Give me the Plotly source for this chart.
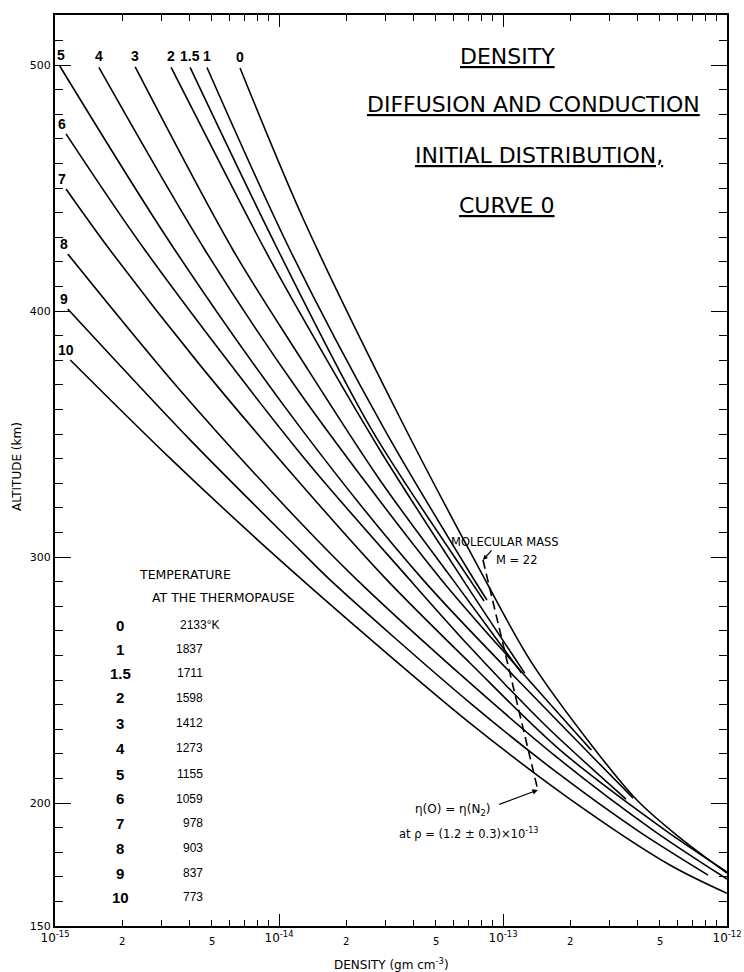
import numpy as np
import plotly.graph_objects as go

# ---------------- data ----------------
curve_ids = ["0", "1", "1.5", "2", "3", "4", "5", "6", "7", "8", "9", "10"]
temperatures = ["2133", "1837", "1711", "1598", "1412", "1273", "1155", "1059", "978", "903", "837", "773"]

dens_c0 = [6.70e-15, 1.29e-14, 3.47e-14, 7.89e-14, 1.32e-13, 2.52e-13, 3.96e-13, 6.17e-13, 1.00e-12]
alt_c0 = [498.8, 437, 356.5, 294.7, 258.1, 222.8, 201.2, 185.8, 171.5]
dens_c1 = [4.77e-15, 1.12e-14, 2.97e-14, 7.12e-14, 8.48e-14]
alt_c1 = [499, 424.8, 351.6, 293.5, 282.5]
dens_c15 = [4.01e-15, 9.90e-15, 2.60e-14, 7.12e-14, 8.23e-14]
alt_c15 = [499, 424.8, 351.6, 290.7, 282.1]
dens_c2 = [3.30e-15, 8.66e-15, 1.24e-14, 2.82e-14, 6.63e-14, 1.25e-13]
alt_c2 = [499, 424.8, 399.2, 343.5, 290.7, 252.8]
dens_c3 = [2.28e-15, 6.23e-15, 1.24e-14, 2.82e-14, 5.98e-14, 1.21e-13]
alt_c3 = [499.2, 424.8, 381.3, 331.3, 290.7, 252.8]
dens_c4 = [1.57e-15, 4.67e-15, 1.24e-14, 5.23e-14, 1.19e-13, 2.48e-13]
alt_c4 = [499, 424.8, 366.7, 291.5, 254.1, 221.5]
dens_c5 = [1.05e-15, 3.43e-15, 1.24e-14, 4.40e-14, 1.54e-13, 3.81e-13]
alt_c5 = [499.6, 424.8, 352.8, 290.7, 238.6, 202]
dens_c6 = [1.12e-15, 2.52e-15, 1.24e-14, 3.84e-14, 7.12e-14, 1.54e-13, 3.54e-13]
alt_c6 = [472, 424.8, 342.3, 290.7, 263.4, 231.7, 201.6]
dens_c7 = [1.12e-15, 1.76e-15, 4.44e-15, 1.24e-14, 3.03e-14, 7.12e-14, 1.80e-13, 5.29e-13, 1.00e-12]
alt_c7 = [449.6, 424.8, 378, 330.1, 290.7, 256.9, 221.5, 189, 172]
dens_c8 = [1.14e-15, 3.61e-15, 1.24e-14, 2.23e-14, 7.12e-14, 1.80e-13, 4.67e-13, 1.00e-12]
alt_c8 = [423.2, 367.9, 314.2, 290.7, 248.8, 217.5, 189, 169.1]
dens_c9 = [1.14e-15, 4.01e-15, 1.24e-14, 1.69e-14, 7.12e-14, 1.80e-13, 3.96e-13, 8.23e-13]
alt_c9 = [400.8, 347.6, 302.8, 290.7, 240.7, 211.4, 189, 170.7]
dens_c10 = [1.17e-15, 3.26e-15, 9.12e-15, 2.55e-14, 7.12e-14, 1.99e-13, 5.56e-13, 1.00e-12]
alt_c10 = [380.1, 340.2, 302.4, 266.7, 232.5, 201.6, 174.8, 163.3]

# molecular mass M = 22 line
dens_m22 = [8.14e-14, 1.43e-13]
alt_m22 = [298.8, 205.3]

x_decades = [1e-15, 1e-14, 1e-13, 1e-12]
x_decade_text = ["10<sup>-15</sup>", "10<sup>-14</sup>", "10<sup>-13</sup>", "10<sup>-12</sup>"]
x_minor_labels = [2e-15, 5e-15, 2e-14, 5e-14, 2e-13, 5e-13]
x_minor_text = ["2", "5", "2", "5", "2", "5"]
y_major = [150, 200, 300, 400, 500]

curves = [(dens_c0, alt_c0), (dens_c1, alt_c1), (dens_c15, alt_c15), (dens_c2, alt_c2),
          (dens_c3, alt_c3), (dens_c4, alt_c4), (dens_c5, alt_c5), (dens_c6, alt_c6),
          (dens_c7, alt_c7), (dens_c8, alt_c8), (dens_c9, alt_c9), (dens_c10, alt_c10)]

# ---------------- layout geometry ----------------
W, H = 744, 972
ML, MR, MT, MB = 55, 17, 15, 46
PW, PH = W - ML - MR, H - MT - MB
Y_TOP = 150 + PH / 2.46


def PX(x):
    return (x - ML) / PW


def PY(y):
    return (H - MB - y) / PH


FONT = "DejaVu Sans"
BOLD = "Liberation Sans"

fig = go.Figure()
for d, a in curves:
    fig.add_trace(go.Scatter(x=d, y=a, mode="lines",
                             line=dict(color="black", width=1.6, shape="spline", smoothing=0.9),
                             hoverinfo="skip"))
fig.add_trace(go.Scatter(x=dens_m22, y=alt_m22, mode="lines",
                         line=dict(color="black", width=1.6, dash="9px,5px"), hoverinfo="skip"))

minor_x = [k * 10.0 ** e for e in (-15, -14, -13) for k in range(2, 10)]
minor_y = [v for v in range(160, 520, 10) if v not in y_major]

ann = []
# curve labels
for i, (d, a) in enumerate(curves):
    top = i <= 6
    ann.append(dict(x=np.log10(d[0]), y=a[0], xref="x", yref="y", text=curve_ids[i],
                    showarrow=False, xanchor="center", yanchor="bottom",
                    xshift=(0 if top else -4) if i != 6 else 1, yshift=1 if top else 0,
                    font=dict(family=BOLD, size=14, color="black", weight="bold")))

# title block
title_font = dict(family=FONT, size=22, color="black", lineposition="under")
ann += [
    dict(x=PX(507), y=PY(57), xref="paper", yref="paper", text="DENSITY", showarrow=False,
         xanchor="center", yanchor="middle", font=title_font),
    dict(x=PX(702), y=PY(105), xref="paper", yref="paper", text="DIFFUSION AND CONDUCTION",
         showarrow=False, xanchor="right", yanchor="middle", font=title_font),
    dict(x=PX(665), y=PY(155), xref="paper", yref="paper", text="INITIAL DISTRIBUTION,",
         showarrow=False, xanchor="right", yanchor="middle", font=title_font),
    dict(x=PX(507), y=PY(205), xref="paper", yref="paper", text="CURVE 0", showarrow=False,
         xanchor="center", yanchor="middle", font=title_font),
]

# temperature table
ann.append(dict(x=PX(137), y=PY(574), xref="paper", yref="paper", text="TEMPERATURE", showarrow=False,
                font=dict(family=FONT, size=12.5, color="black")))
ann.append(dict(x=PX(150), y=PY(597), xref="paper", yref="paper", text="AT THE THERMOPAUSE",
                showarrow=False, font=dict(family=FONT, size=12.5, color="black")))
row_y = [625, 649.3, 673.3, 697.7, 723.3, 748.3, 774, 799, 823.3, 848.3, 873.3, 897.3]
for i, cid in enumerate(curve_ids):
    ann.append(dict(x=PX(120), y=PY(row_y[i]), xref="paper", yref="paper", text=cid,
                    showarrow=False, xanchor="center", yanchor="middle",
                    font=dict(family=BOLD, size=15, color="black", weight="bold")))
    if i == 0:
        ann.append(dict(x=PX(178), y=PY(row_y[i]), xref="paper", yref="paper",
                        text=temperatures[i] + "°K", showarrow=False, xanchor="left", yanchor="middle",
                        font=dict(family=BOLD, size=12, color="black")))
    else:
        ann.append(dict(x=PX(205), y=PY(row_y[i]), xref="paper", yref="paper", text=temperatures[i],
                        showarrow=False, xanchor="right", yanchor="middle",
                        font=dict(family=BOLD, size=12, color="black")))

# molecular mass annotation
small = dict(family=FONT, size=11.5, color="black")
ann += [
    dict(x=PX(561), y=PY(542), xref="paper", yref="paper", text="MOLECULAR MASS", showarrow=False,
         font=small),
    dict(x=PX(540), y=PY(560), xref="paper", yref="paper", text="M = 22", showarrow=False, font=small),
    dict(x=np.log10(dens_m22[0]), y=alt_m22[0], xref="x", yref="y", text="", showarrow=True,
         arrowhead=2, arrowsize=0.8, arrowwidth=1.2, arrowcolor="black", ax=10, ay=-11),
    dict(x=PX(492), y=PY(810), xref="paper", yref="paper", text="η(O) = η(N<sub>2</sub>)",
         showarrow=False, xanchor="right", yanchor="middle", font=dict(family=FONT, size=12, color="black")),
    dict(x=np.log10(dens_m22[1]), y=alt_m22[1], xref="x", yref="y", text="", showarrow=True,
         arrowhead=2, arrowsize=0.9, arrowwidth=1.2, arrowcolor="black", ax=-40, ay=15),
    dict(x=PX(540), y=PY(833), xref="paper", yref="paper",
         text="at ρ = (1.2 ± 0.3)×10<sup>-13</sup>", showarrow=False, xanchor="right", yanchor="middle",
         font=dict(family=FONT, size=11.5, color="black")),
]

# minor x tick labels (2, 5)
for v, t in zip(x_minor_labels, x_minor_text):
    ann.append(dict(x=np.log10(v), y=PY(941), xref="x", yref="paper", text=t,
                    showarrow=False, xanchor="center", yanchor="middle",
                    font=dict(family=FONT, size=10, color="black")))

# axis titles
ann.append(dict(x=PX(391), y=PY(964), xref="paper", yref="paper", text="DENSITY (gm cm<sup>-3</sup>)",
                showarrow=False, xanchor="center", yanchor="middle", font=dict(family=FONT, size=12, color="black")))
ann.append(dict(x=PX(17), y=PY(467), xref="paper", yref="paper", text="ALTITUDE (km)", textangle=-90,
                showarrow=False, xanchor="center", yanchor="middle", font=dict(family=FONT, size=12, color="black")))

fig.update_layout(
    width=W, height=H,
    margin=dict(l=ML, r=MR, t=MT, b=MB, autoexpand=False),
    paper_bgcolor="white", plot_bgcolor="white",
    showlegend=False,
    annotations=ann,
    xaxis=dict(type="log", range=[-15, -12], showline=True, linecolor="black", linewidth=2,
               mirror="ticks", ticks="inside", ticklen=12, tickwidth=1.4, tickcolor="black",
               tickmode="array", tickvals=x_decades, ticktext=x_decade_text,
               tickfont=dict(family=FONT, size=12, color="black"),
               showgrid=False, zeroline=False,
               minor=dict(ticks="inside", ticklen=6, tickwidth=1.2, tickcolor="black",
                          tickmode="array", tickvals=minor_x, showgrid=False)),
    yaxis=dict(range=[150, Y_TOP], showline=True, linecolor="black", linewidth=2,
               mirror="ticks", ticks="inside", ticklen=16, tickwidth=1.4, tickcolor="black",
               tickmode="array", tickvals=y_major, ticktext=[str(v) for v in y_major],
               tickfont=dict(family=FONT, size=11, color="black"),
               showgrid=False, zeroline=False,
               minor=dict(ticks="inside", ticklen=8, tickwidth=1.2, tickcolor="black",
                          tickmode="array", tickvals=minor_y, showgrid=False)),
)

fig.write_html("out.html", config={"displayModeBar": False},
               post_script="document.body.style.margin='0px';document.body.style.overflow='hidden';")
